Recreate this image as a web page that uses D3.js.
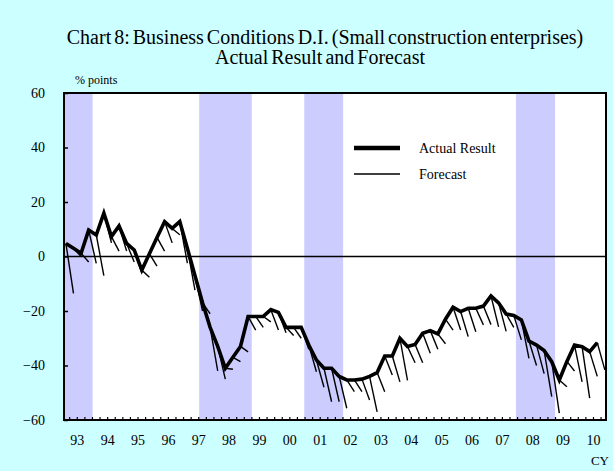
<!DOCTYPE html>
<meta charset="utf-8">
<style>
body { margin: 0; background: #ccffff; }
text { font-family: "Liberation Serif", "Times New Roman", serif; fill: #000; }
</style>
<body>
<script src="https://d3js.org/d3.v7.min.js"></script>
<script>

const width = 613
const height = 471

// quarterly, first value = 1993 Q1
const startYear = 1993
const actual = [4.8, 3, 1.2, 9.7, 7.9, 15.9, 7.3, 11.2, 4.8, 2.4, -5, 1, 7, 12.8, 10.3, 12.8,
  3, -7, -17, -26, -33, -41, -37, -33, -22, -22, -22, -19.5, -20.5, -26, -26, -26,
  -32.5, -38, -41, -41, -44, -45.3, -45.3, -45, -44, -42.6, -36.5, -36.5, -30, -33, -32.3, -28.2,
  -27.2, -28.4, -23, -18.6, -20.2, -19, -19, -18.2, -14.5, -17, -21.1, -21.6, -23.3, -31,
  -32.5, -34.5, -38.6, -45.3, -38.5, -32.5, -33.1, -34.9, -31.6]
// forecast made one quarter before (index 0 has none)
const forecast = [null, -13.5, 0, -2, -2.5, -7, 5, 2, 2, -2, -6, -7.6, -3.5, 2, 5, 8,
  -2.4, -12.3, -20, -21, -42, -45, -41.4, -38.6, -35, -27, -26, -24, -27, -28, -29, -30,
  -34, -42.3, -48, -53.3, -53.3, -55.7, -49.6, -49.6, -52.7, -57, -49.6, -43.5, -46, -45.5, -39, -39,
  -35.5, -34, -32, -27, -27, -29.4, -27.6, -25.1, -25, -25.8, -27.5, -26, -30.6, -37.4,
  -40, -43, -51.4, -57.5, -47.8, -42, -46, -52, -44, -41.6]
const years = ['93', '94', '95', '96', '97', '98', '99', '00', '01', '02', '03', '04', '05', '06', '07', '08', '09', '10']
const yTicks = [60, 40, 20, 0, -20, -40, -60]
// recession periods (fractional years)
const recessions = [[1992.9, 1993.88], [1997.39, 1999.12], [2000.85, 2002.13], [2007.82, 2009.11]]

const margin = { left: 64, right: 7, top: 93, bottom: 50 }

const svg = d3.select('body').append('svg')
  .attr('width', width)
  .attr('height', height)

svg.append('rect').attr('width', width).attr('height', height).attr('fill', '#ccffff')

const x = d3.scaleLinear()
  .domain([startYear - 0.0625, startYear + 71.15 / 4])
  .range([margin.left, width - margin.right])
const y = d3.scaleLinear()
  .domain([-60, 60])
  .range([height - margin.bottom - 1, margin.top])
const xq = i => x(startYear + i / 4)

// title
svg.append('text').attr('x', 325).attr('y', 44).attr('text-anchor', 'middle')
  .style('font-size', '20px').style('word-spacing', '-2px')
  .text('Chart 8: Business Conditions D.I. (Small construction enterprises)')
svg.append('text').attr('x', 320).attr('y', 64).attr('text-anchor', 'middle')
  .style('font-size', '20px').style('word-spacing', '-2px')
  .text('Actual Result and Forecast')
svg.append('text').attr('x', 75).attr('y', 84).style('font-size', '12px').text('% points')

// plot area
svg.append('rect')
  .attr('x', x.range()[0]).attr('y', y(60))
  .attr('width', x.range()[1] - x.range()[0]).attr('height', y(-60) - y(60))
  .attr('fill', '#fff')

svg.append('g').selectAll('rect')
  .data(recessions)
  .join('rect')
  .attr('x', d => Math.max(x(d[0]), x.range()[0]))
  .attr('y', y(60))
  .attr('width', d => x(d[1]) - Math.max(x(d[0]), x.range()[0]))
  .attr('height', y(-60) - y(60))
  .attr('fill', '#ccccff')

// zero line
svg.append('line')
  .attr('x1', x.range()[0]).attr('x2', x.range()[1])
  .attr('y1', y(0)).attr('y2', y(0))
  .attr('stroke', '#000').attr('stroke-width', 1.5)

// forecast segments from previous actual
const segs = forecast.map((f, i) => f == null ? null : [i - 1, actual[i - 1], i, f]).filter(d => d)
svg.append('g').selectAll('line')
  .data(segs)
  .join('line')
  .attr('x1', d => xq(d[0])).attr('y1', d => y(d[1]))
  .attr('x2', d => xq(d[2])).attr('y2', d => y(d[3]))
  .attr('stroke', '#000').attr('stroke-width', 1.4)

// actual line
svg.append('path')
  .datum(actual)
  .attr('fill', 'none')
  .attr('stroke', '#000')
  .attr('stroke-width', 3.6)
  .attr('stroke-linejoin', 'miter')
  .attr('d', d3.line().x((d, i) => xq(i)).y(d => y(d)))

// axes
const yAxis = d3.axisLeft(y).tickValues(yTicks).tickSize(-4).tickPadding(19).tickFormat(d3.format('d'))
const gy = svg.append('g').attr('transform', `translate(${x.range()[0]},0)`).call(yAxis)
gy.select('.domain').remove()
gy.selectAll('line').attr('stroke-width', 1.5)
gy.selectAll('text').style('font-size', '14px').style('font-family', '"Liberation Serif", serif')

const qTicks = d3.range(0, 72).map(i => startYear + i / 4 - 0.125).filter(t => x(t) > x.range()[0] + 1)
svg.append('g').selectAll('line')
  .data(qTicks)
  .join('line')
  .attr('x1', d => x(d)).attr('x2', d => x(d))
  .attr('y1', y(-60)).attr('y2', y(-60) - 3)
  .attr('stroke', '#000').attr('stroke-width', 1.2)

svg.append('g').selectAll('text')
  .data(years)
  .join('text')
  .attr('x', (d, i) => x(startYear + i + 0.375))
  .attr('y', 445)
  .attr('text-anchor', 'middle')
  .style('font-size', '14px')
  .text(d => d)
svg.append('text').attr('x', 609).attr('y', 465).attr('text-anchor', 'end').style('font-size', '13px').text('CY')

// border
svg.append('rect')
  .attr('x', x.range()[0]).attr('y', y(60))
  .attr('width', x.range()[1] - x.range()[0]).attr('height', y(-60) - y(60))
  .attr('fill', 'none').attr('stroke', '#000').attr('stroke-width', 2)

// legend
const legend = [['Actual Result', 4.5, 148], ['Forecast', 1.6, 174]]
const lg = svg.append('g').selectAll('g').data(legend).join('g')
lg.append('line').attr('x1', 354).attr('x2', 400)
  .attr('y1', d => d[2]).attr('y2', d => d[2])
  .attr('stroke', '#000').attr('stroke-width', d => d[1])
lg.append('text').attr('x', 419).attr('y', d => d[2] + 5)
  .style('font-size', '14px').text(d => d[0])

</script>
</body>
</html>
